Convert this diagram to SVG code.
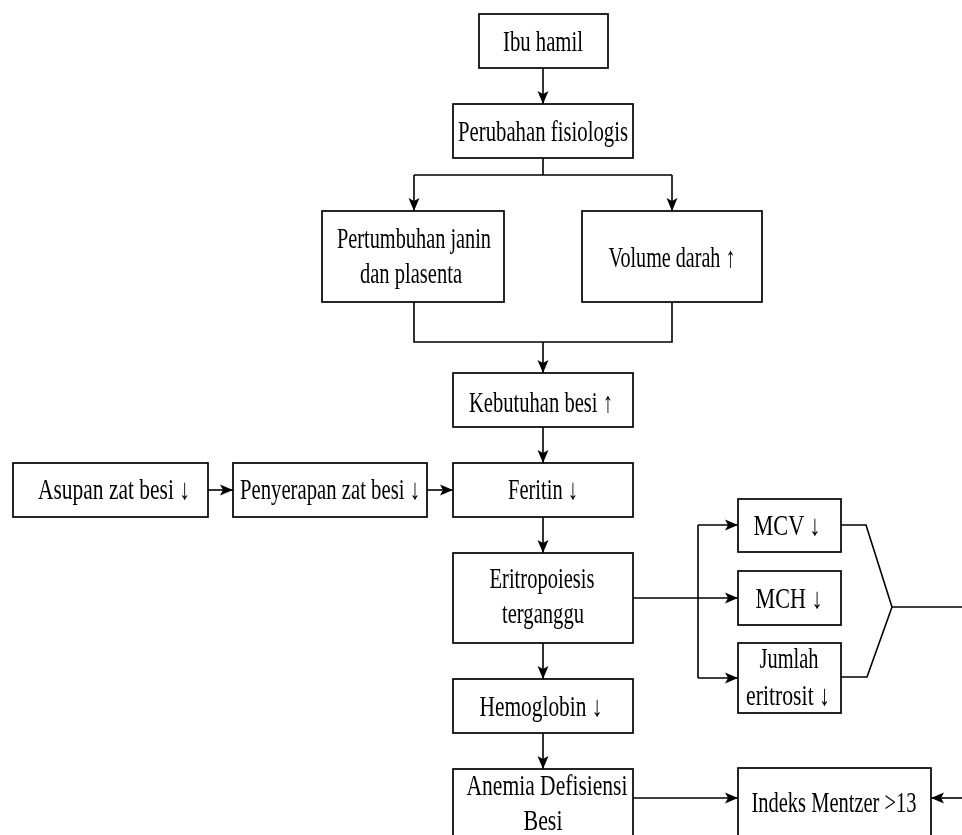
<svg xmlns="http://www.w3.org/2000/svg" width="962" height="835" viewBox="0 0 962 835">
<style>
.box{fill:#fff;stroke:#000;stroke-width:1.7}
.t{font-family:"Liberation Serif","Times New Roman",serif;font-size:29px;fill:#000;text-anchor:middle;filter:url(#gray)}
.c{fill:none;stroke:#000;stroke-width:1.6}
.a{marker-end:url(#ah)}
</style>
<defs>
<filter id="gray" x="-10%" y="-30%" width="120%" height="160%"><feColorMatrix type="saturate" values="0"/></filter>
<marker id="ah" markerUnits="userSpaceOnUse" markerWidth="14" markerHeight="12" refX="13" refY="6" orient="auto">
<path d="M0,0.5 L13,6 L0,11.5 L3,6 z" fill="#000"/>
</marker>
</defs>
<rect width="962" height="835" fill="#fff"/>
<g id="connectors">
<line class="c a" x1="543" y1="68" x2="543" y2="104"/>
<path class="c" d="M543,158 V175 M414,175 H672"/>
<line class="c a" x1="414" y1="175" x2="414" y2="211"/>
<line class="c a" x1="672" y1="175" x2="672" y2="211"/>
<path class="c" d="M414,302 V342 H672 V302"/>
<line class="c a" x1="543" y1="342" x2="543" y2="373"/>
<line class="c a" x1="543" y1="427" x2="543" y2="463"/>
<line class="c a" x1="208" y1="490" x2="233" y2="490"/>
<line class="c a" x1="427" y1="490" x2="453" y2="490"/>
<line class="c a" x1="543" y1="517" x2="543" y2="553"/>
<line class="c a" x1="633" y1="598" x2="738" y2="598"/>
<path class="c" d="M698,525 V678"/>
<line class="c a" x1="698" y1="525" x2="738" y2="525"/>
<line class="c a" x1="698" y1="678" x2="738" y2="678"/>
<line class="c a" x1="543" y1="643" x2="543" y2="679"/>
<line class="c a" x1="543" y1="733" x2="543" y2="769"/>
<line class="c a" x1="633" y1="798" x2="738" y2="798"/>
<path class="c" d="M841,525 H866 L892,607 L867,677 H841 M892,607 H962"/>
<line class="c a" x1="962" y1="798" x2="931" y2="798"/>
</g>
<g id="ibu-hamil"><rect class="box" x="479" y="14" width="129" height="54"/><text class="t" x="543" y="51" textLength="80" lengthAdjust="spacingAndGlyphs">Ibu hamil</text></g>
<g id="perubahan"><rect class="box" x="453" y="104" width="180" height="54"/><text class="t" x="543" y="141" textLength="170" lengthAdjust="spacingAndGlyphs">Perubahan fisiologis</text></g>
<g id="pertumbuhan"><rect class="box" x="322" y="211" width="182" height="91"/><text class="t" x="414" y="248" textLength="154" lengthAdjust="spacingAndGlyphs">Pertumbuhan janin</text><text class="t" x="411" y="283" textLength="102" lengthAdjust="spacingAndGlyphs">dan plasenta</text></g>
<g id="volume"><rect class="box" x="582" y="211" width="180" height="91"/><text class="t" x="672" y="267" textLength="127" lengthAdjust="spacingAndGlyphs">Volume darah ↑</text></g>
<g id="kebutuhan"><rect class="box" x="453" y="373" width="180" height="54"/><text class="t" x="541" y="412" textLength="144" lengthAdjust="spacingAndGlyphs">Kebutuhan besi ↑</text></g>
<g id="asupan"><rect class="box" x="13" y="463" width="195" height="54"/><text class="t" x="114" y="499" textLength="152" lengthAdjust="spacingAndGlyphs">Asupan zat besi ↓</text></g>
<g id="penyerapan"><rect class="box" x="233" y="463" width="194" height="54"/><text class="t" x="330" y="499" textLength="180" lengthAdjust="spacingAndGlyphs">Penyerapan zat besi ↓</text></g>
<g id="feritin"><rect class="box" x="453" y="463" width="180" height="54"/><text class="t" x="543" y="499" textLength="70" lengthAdjust="spacingAndGlyphs">Feritin ↓</text></g>
<g id="eritropoiesis"><rect class="box" x="453" y="553" width="180" height="90"/><text class="t" x="542" y="588" textLength="105" lengthAdjust="spacingAndGlyphs">Eritropoiesis</text><text class="t" x="543" y="623" textLength="82" lengthAdjust="spacingAndGlyphs">terganggu</text></g>
<g id="mcv"><rect class="box" x="738" y="499" width="103" height="53"/><text class="t" x="787" y="535" textLength="67" lengthAdjust="spacingAndGlyphs">MCV ↓</text></g>
<g id="mch"><rect class="box" x="738" y="571" width="103" height="54"/><text class="t" x="789" y="608" textLength="67" lengthAdjust="spacingAndGlyphs">MCH ↓</text></g>
<g id="jumlah"><rect class="box" x="738" y="643" width="103" height="70"/><text class="t" x="789" y="668" textLength="59" lengthAdjust="spacingAndGlyphs">Jumlah</text><text class="t" x="788" y="705" textLength="84" lengthAdjust="spacingAndGlyphs">eritrosit ↓</text></g>
<g id="hemoglobin"><rect class="box" x="453" y="679" width="180" height="54"/><text class="t" x="541" y="716" textLength="123" lengthAdjust="spacingAndGlyphs">Hemoglobin ↓</text></g>
<g id="anemia"><rect class="box" x="453" y="769" width="180" height="68"/><text class="t" x="547" y="795" textLength="161" lengthAdjust="spacingAndGlyphs">Anemia Defisiensi</text><text class="t" x="543" y="830" textLength="39" lengthAdjust="spacingAndGlyphs">Besi</text></g>
<g id="indeks"><rect class="box" x="738" y="768" width="193" height="69"/><text class="t" x="834" y="812" textLength="165" lengthAdjust="spacingAndGlyphs">Indeks Mentzer &gt;13</text></g>
</svg>
